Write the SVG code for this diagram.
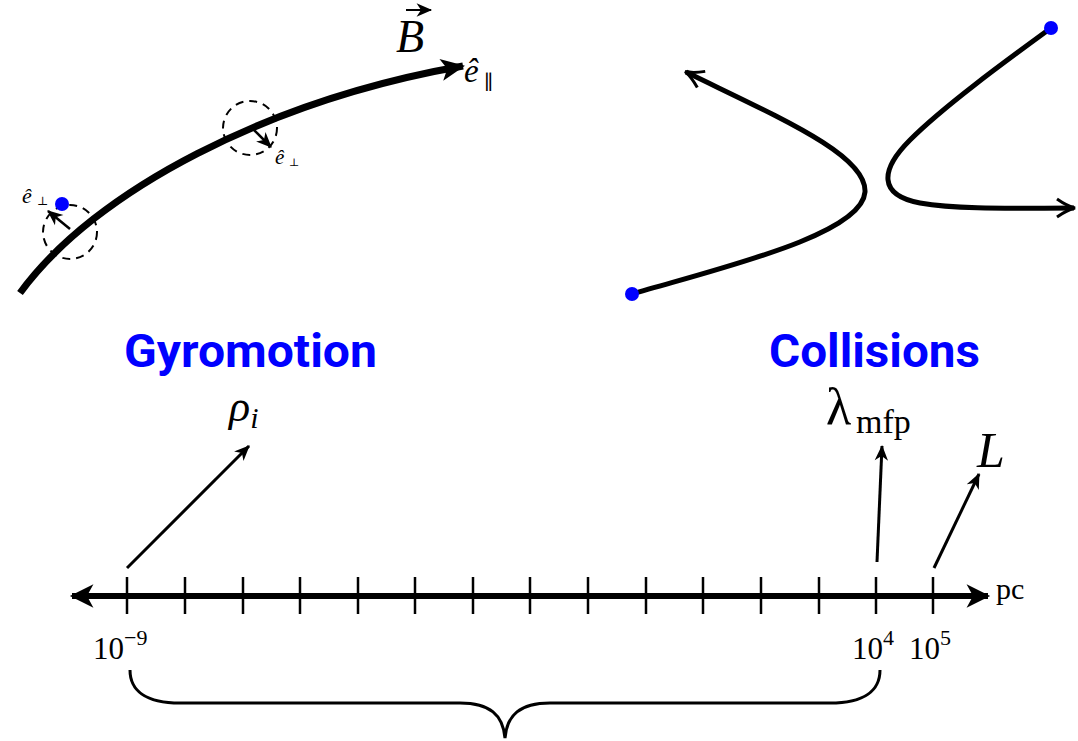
<svg xmlns="http://www.w3.org/2000/svg" width="1078" height="741" viewBox="0 0 1078 741">
<style>
.math{font-family:"Liberation Serif","DejaVu Serif",serif;fill:#000}
.it{font-style:italic}
.title{font-family:Roboto,"Liberation Sans",sans-serif;font-weight:bold;font-size:47px;fill:#0000ff}
.thick{fill:none;stroke:#000;stroke-linecap:butt}
.dash{fill:none;stroke:#000;stroke-width:2;stroke-dasharray:8 6}
.dot{fill:#0000ff}
</style>
<defs>
<marker id="bighead" markerUnits="userSpaceOnUse" markerWidth="30" markerHeight="30" viewBox="-26 -13 30 26" refX="0" refY="0" orient="auto">
<path d="M2,0 L-22,-11 L-16,0 L-22,11 Z" fill="#000"/>
</marker>
<marker id="axhead" markerUnits="userSpaceOnUse" markerWidth="30" markerHeight="30" viewBox="-24 -12 28 24" refX="0" refY="0" orient="auto-start-reverse">
<path d="M2,0 L-20,-11 L-14,0 L-20,11 Z" fill="#000"/>
</marker>
<marker id="smallhead" markerUnits="userSpaceOnUse" markerWidth="20" markerHeight="20" viewBox="-16 -8 18 16" refX="0" refY="0" orient="auto">
<path d="M1,0 L-13,-6 L-9,0 L-13,6 Z" fill="#000"/>
</marker>
<marker id="openhead" markerUnits="userSpaceOnUse" markerWidth="24" markerHeight="24" viewBox="-20 -12 24 24" refX="0" refY="0" orient="auto">
<path d="M-17,-9 Q-7,-2 1,0 Q-7,2 -17,9" fill="none" stroke="#000" stroke-width="3"/>
</marker>
</defs>

<g id="field-line">
<path class="thick" d="M20,293 C95,190 270,100 463,66" stroke-width="7" marker-end="url(#bighead)"/>
</g>
<g id="gyro-orbit-1">
<circle class="dash" cx="70" cy="232" r="27"/>
<line x1="70" y1="229" x2="48" y2="211" stroke="#000" stroke-width="2.5" marker-end="url(#smallhead)"/>
<circle class="dot" cx="62" cy="204" r="7"/>
<text class="math it" x="22" y="203" font-size="22">ê</text>
<text class="math" x="37" y="205" font-size="12">⊥</text>
</g>
<g id="gyro-orbit-2">
<circle class="dash" cx="250" cy="128" r="27"/>
<line x1="251" y1="127" x2="271" y2="147" stroke="#000" stroke-width="2.5" marker-end="url(#smallhead)"/>
<text class="math it" x="275" y="164" font-size="21">ê</text>
<text class="math" x="289" y="166" font-size="11">⊥</text>
</g>
<g id="label-B">
<text class="math it" x="396" y="52" font-size="46">B</text>
<line x1="406" y1="10" x2="431" y2="10" stroke="#000" stroke-width="2" marker-end="url(#smallhead)"/>
</g>
<g id="label-epar">
<text class="math it" x="464" y="82" font-size="33">ê</text>
<text class="math" x="484" y="89" font-size="20">∥</text>
</g>

<g id="collision-1">
<path class="thick" d="M632,294 C720,268 862,235 865,192 C867,155 780,118 686,72" stroke-width="5" marker-end="url(#openhead)"/>
<circle class="dot" cx="632" cy="294" r="7"/>
</g>
<g id="collision-2">
<path class="thick" d="M1051,28 C1010,58 945,105 910,140 C880,170 878,195 920,203 C960,210 1020,208 1074,208" stroke-width="5" marker-end="url(#openhead)"/>
<circle class="dot" cx="1051" cy="28" r="7"/>
</g>

<g id="title-gyromotion"><text class="title" x="124" y="367" textLength="253" lengthAdjust="spacingAndGlyphs">Gyromotion</text></g>
<g id="title-collisions"><text class="title" x="769" y="367" textLength="211" lengthAdjust="spacingAndGlyphs">Collisions</text></g>

<g id="axis">
<line x1="72" y1="596" x2="988" y2="596" stroke="#000" stroke-width="6" marker-start="url(#axhead)" marker-end="url(#axhead)"/>
<g stroke="#000" stroke-width="2.5">
<line x1="127" y1="577" x2="127" y2="614"/>
<line x1="185" y1="577" x2="185" y2="614"/>
<line x1="243" y1="577" x2="243" y2="614"/>
<line x1="300" y1="577" x2="300" y2="614"/>
<line x1="358" y1="577" x2="358" y2="614"/>
<line x1="415" y1="577" x2="415" y2="614"/>
<line x1="473" y1="577" x2="473" y2="614"/>
<line x1="530" y1="577" x2="530" y2="614"/>
<line x1="588" y1="577" x2="588" y2="614"/>
<line x1="646" y1="577" x2="646" y2="614"/>
<line x1="703" y1="577" x2="703" y2="614"/>
<line x1="761" y1="577" x2="761" y2="614"/>
<line x1="819" y1="577" x2="819" y2="614"/>
<line x1="876" y1="577" x2="876" y2="614"/>
<line x1="933" y1="577" x2="933" y2="614"/>
</g>
<text class="math" x="996" y="599" font-size="30">pc</text>
<text class="math" x="93" y="659" font-size="31">10<tspan dy="-14" font-size="22">−9</tspan></text>
<text class="math" x="852" y="659" font-size="31">10<tspan dy="-14" font-size="22">4</tspan></text>
<text class="math" x="909" y="659" font-size="31">10<tspan dy="-14" font-size="22">5</tspan></text>
</g>

<g id="connectors">
<line x1="127" y1="568" x2="249" y2="446" stroke="#000" stroke-width="3" marker-end="url(#smallhead)"/>
<line x1="877" y1="562" x2="882" y2="446" stroke="#000" stroke-width="3" marker-end="url(#smallhead)"/>
<line x1="934" y1="568" x2="979" y2="474" stroke="#000" stroke-width="3" marker-end="url(#smallhead)"/>
</g>

<g id="label-rho">
<text class="math it" x="229" y="421" font-size="44">ρ<tspan dy="7" font-size="30">i</tspan></text>
</g>
<g id="label-lambda">
<text class="math" x="826" y="424" font-size="52">λ</text>
<text class="math" x="856" y="433" font-size="34">mfp</text>
</g>
<g id="label-L">
<text class="math it" x="977" y="467" font-size="50">L</text>
</g>

<g id="brace">
<path d="M130,670 C130,690 145,703 180,703 L460,703 C490,703 503,715 505,738 C507,715 520,703 550,703 L830,703 C865,703 880,690 880,670" fill="none" stroke="#000" stroke-width="3"/>
</g>
</svg>
